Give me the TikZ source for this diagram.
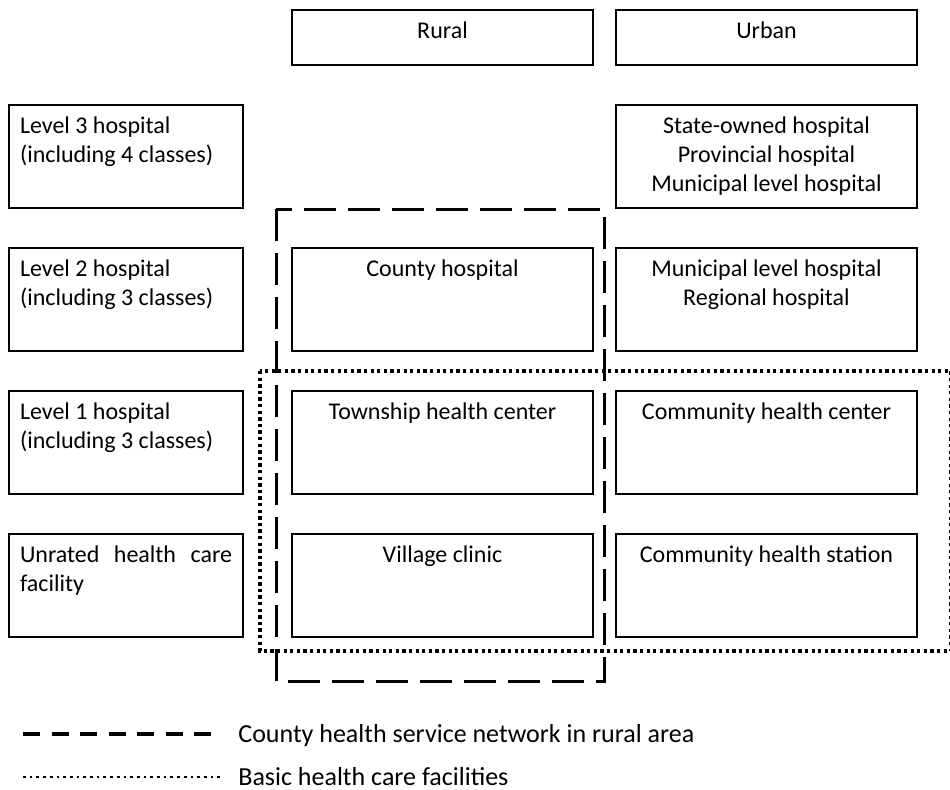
\documentclass[tikz,border=0pt]{standalone}
\usepackage{fontspec}
\setmainfont{Carlito}
\usepackage{tikz}
\usetikzlibrary{positioning}

% top-aligned text block inside a fixed-size cell
\newcommand{\cellbox}[4]{\parbox[t][#2][t]{#1}{#3\rule{0pt}{10pt}#4}}

\begin{document}
\begin{tikzpicture}[x=0.5pt, y=-0.5pt,
        cell/.style={draw, line width=1pt, inner xsep=5.5pt, inner ysep=4pt, anchor=north west,
                font=\fontsize{12}{14.5}\selectfont},
        network/.style={line width=1.5pt, dash pattern=on 16pt off 6pt},
        basic/.style={line width=1.6pt, dash pattern=on 1.65pt off 1.65pt},
        netkey/.style={line width=1.7pt, dash pattern=on 8.5pt off 5.75pt},
        basickey/.style={line width=1.35pt, dash pattern=on 1.35pt off 2pt},
        legend/.style={inner sep=0pt, anchor=base west, font=\fontsize{13}{15.5}\selectfont}]
        \useasboundingbox (0,0) rectangle (950,789);

        % Column headings
        \foreach \x/\name/\txt in {291/rural/Rural, 615/urban/Urban} {
        \node[cell] (\name) at (\x,9) {\cellbox{139.5pt}{19.5pt}{\centering}{\txt}};
        }

        % Hospital grades
        \foreach \y/\name/\txt in {104/grade3/{Level 3 hospital\\(including 4 classes)},
                247/grade2/{Level 2 hospital\\(including 3 classes)},
                390/grade1/{Level 1 hospital\\(including 3 classes)}} {
        \node[cell] (\name) at (8,\y) {\cellbox{106pt}{43.5pt}{\raggedright}{\txt}};
        }
        \node[cell] (grade0) at (8,533) {\cellbox{106pt}{43.5pt}{\raggedright}{\makebox[\linewidth][s]{Unrated health care}\\facility}};

        % Rural column
        \foreach \y/\name/\txt in {247/county/County hospital, 390/township/Township health center, 533/village/Village clinic} {
        \node[cell] (\name) at (291,\y) {\cellbox{139.5pt}{43.5pt}{\centering}{\txt}};
        }

        % Urban column
        \foreach \y/\name/\txt in {104/state/{State-owned hospital\\Provincial hospital\\Municipal level hospital},
                247/municipal/{Municipal level hospital\\Regional hospital},
                390/commcenter/Community health center,
                533/commstation/Community health station} {
        \node[cell] (\name) at (615,\y) {\cellbox{139.5pt}{43.5pt}{\centering}{\txt}};
        }

        % Outlines of the two groups
        \draw[basic] (260,371) rectangle (951,651);
        \draw[network] (276,209) rectangle (604,681);

        % Legend
        \coordinate (netA) at (23,734);
        \coordinate (netB) at (220,734);
        \draw[netkey] (netA) -- (netB);
        \node[legend] (netlabel) at ([xshift=9pt, yshift=-4pt]netB) {County health service network in rural area};

        \coordinate (basicA) at (23,777);
        \coordinate (basicB) at (220,777);
        \draw[basickey] (basicA) -- (basicB);
        \node[legend] (basiclabel) at ([xshift=9pt, yshift=-4pt]basicB) {Basic health care facilities};
\end{tikzpicture}
\end{document}
